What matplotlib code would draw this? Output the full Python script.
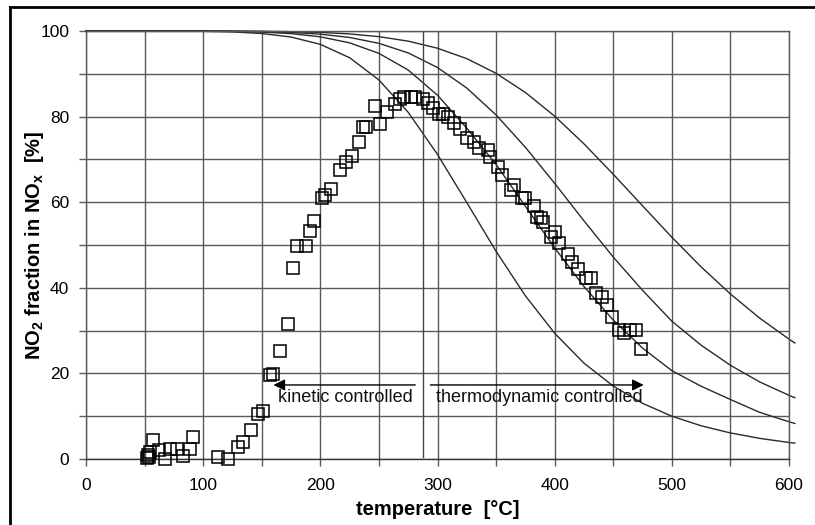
import matplotlib
matplotlib.use("Agg")
import matplotlib.pyplot as plt
from matplotlib.ticker import MultipleLocator
from matplotlib.lines import Line2D

plt.rcParams['font.family'] = ['Liberation Sans', 'DejaVu Sans']
plt.rcParams['mathtext.fontset'] = 'custom'
plt.rcParams['mathtext.bf'] = 'Liberation Sans:bold'
plt.rcParams['mathtext.rm'] = 'Liberation Sans'
plt.rcParams['mathtext.default'] = 'bf'

# Equilibrium NO2 fraction curves (temperature in degC, fraction in %)
curve_T = [0, 25, 50, 75, 100, 125, 150, 175, 200, 225, 250, 275, 300,
           325, 350, 375, 400, 425, 450, 475, 500, 525, 550, 575, 600, 605]
curve_a = [100.0, 100.0, 100.0, 99.98, 99.93, 99.79, 99.42, 98.59, 96.88,
           93.75, 88.57, 81.0, 71.16, 59.92, 48.52, 38.13, 29.38, 22.39,
           17.04, 13.01, 10.0, 7.76, 6.09, 4.82, 3.86, 3.70]
curve_b = [100.0, 100.0, 100.0, 99.99, 99.97, 99.91, 99.75, 99.39, 98.64,
           97.23, 94.78, 90.88, 85.0, 77.3, 68.81, 59.05, 49.32, 40.30,
           32.45, 25.92, 20.64, 17.0, 13.9, 10.9, 8.7, 8.3]
curve_c = [100.0, 100.0, 100.0, 100.0, 99.98, 99.95, 99.87, 99.67, 99.26,
           98.49, 97.12, 94.88, 91.47, 86.67, 80.39, 72.83, 64.40, 55.65,
           47.18, 39.41, 32.2, 26.6, 21.9, 18.0, 14.88, 14.32]
curve_d = [100.0, 100.0, 100.0, 100.0, 99.99, 99.98, 99.94, 99.85, 99.67,
           99.32, 98.68, 97.63, 95.98, 93.54, 90.12, 85.64, 80.11, 73.63,
           66.53, 59.15, 51.82, 44.89, 38.56, 32.91, 28.01, 27.11]

# Measured NO2 fraction
meas_T = [52, 53, 54, 55, 57, 62, 67, 72, 78, 83,
          89, 91, 113, 121, 130, 134, 141, 147, 151, 157,
          160, 166, 172, 177, 180, 188, 191, 195, 201, 204,
          209, 217, 222, 227, 233, 236, 239, 247, 251, 257,
          264, 268, 271, 277, 281, 288, 292, 296, 301, 305,
          309, 314, 319, 325, 331, 335, 343, 345, 352, 355,
          363, 365, 372, 375, 382, 385, 388, 390, 397, 400,
          404, 411, 415, 420, 427, 431, 435, 440, 445, 449,
          455, 459, 464, 469, 474]
meas_v = [0.2, 0.9, 0.5, 1.6, 4.4, 2.0, 0.0, 2.4, 2.4, 0.7,
          2.4, 5.1, 0.5, 0.0, 2.9, 3.9, 6.8, 10.4, 11.2, 19.6,
          19.9, 25.2, 31.5, 44.6, 49.8, 49.8, 53.3, 55.7, 60.9, 61.7,
          63.0, 67.5, 69.5, 70.9, 74.0, 77.6, 77.6, 82.5, 78.3, 81.0,
          82.9, 84.0, 84.5, 84.6, 84.5, 84.0, 83.1, 81.9, 80.5, 80.7,
          80.0, 78.4, 77.2, 74.9, 74.1, 72.6, 72.2, 70.6, 68.3, 66.4,
          62.9, 64.0, 60.9, 60.9, 59.0, 56.6, 56.2, 55.4, 51.9, 53.1,
          50.5, 48.0, 46.1, 44.5, 42.4, 42.4, 38.9, 37.9, 36.0, 33.1,
          30.1, 29.4, 30.1, 30.1, 25.7]

T_boundary = 288
arrow_level = 17.3
kinetic_span = (281, 160)
thermo_span = (294, 476)

fig = plt.figure(figsize=(8.15, 5.25), dpi=100)
ax = fig.add_axes([86 / 815, 1 - 459 / 525, (789 - 86) / 815, (459 - 31) / 525])

grid_col = '#5a5a5a'
ax.set_xlim(0, 600)
ax.set_ylim(0, 100)
ax.xaxis.set_major_locator(MultipleLocator(100))
ax.xaxis.set_minor_locator(MultipleLocator(50))
ax.yaxis.set_major_locator(MultipleLocator(20))
ax.yaxis.set_minor_locator(MultipleLocator(10))
ax.grid(which='both', color=grid_col, linewidth=1.0)
ax.set_axisbelow(True)
ax.tick_params(which='both', direction='out', length=5, width=1.0,
               color=grid_col, labelsize=12.5)
ax.tick_params(axis='x', which='both', pad=9)
ax.tick_params(axis='y', which='both', pad=7)
for s in ax.spines.values():
    s.set_color(grid_col)
    s.set_linewidth(1.0)
ax.spines['bottom'].set_color('#333333')

for vals in (curve_a, curve_b, curve_c, curve_d):
    ax.plot(curve_T, vals, color='#2a2a2a', linewidth=1.0, clip_on=False, zorder=2)

ax.plot([T_boundary, T_boundary], [100, 0.5], color='#444444', linewidth=1.0, zorder=2)

ax.plot(meas_T, meas_v, 's', mfc='none', mec='black', ms=9, mew=1.1,
        zorder=3, clip_on=False)

arrow_kw = dict(arrowstyle='-|>', mutation_scale=17, color='black', lw=1.0,
                shrinkA=0, shrinkB=0)
ax.annotate('', xy=(kinetic_span[1], arrow_level), xytext=(kinetic_span[0], arrow_level),
            arrowprops=arrow_kw, zorder=4)
ax.annotate('', xy=(thermo_span[1], arrow_level), xytext=(thermo_span[0], arrow_level),
            arrowprops=arrow_kw, zorder=4)
ax.text(164, 14.4, 'kinetic controlled', fontsize=13, va='center', ha='left',
        color='#111111', zorder=4)
ax.text(299, 14.4, 'thermodynamic controlled', fontsize=13, va='center', ha='left',
        color='#111111', zorder=4)

ax.set_xlabel('temperature  [°C]', fontsize=14.5, fontweight='bold', labelpad=5)
ax.set_ylabel('NO$_2$ fraction in NO$_x$  [%]', fontsize=14.5, fontweight='bold', labelpad=-4)

# outer frame of the figure (left and top edges)
fig.add_artist(Line2D([10 / 815, 10 / 815], [0, 1 - 7 / 525], color='black', linewidth=2,
                      transform=fig.transFigure))
fig.add_artist(Line2D([10 / 815, 1], [1 - 7 / 525, 1 - 7 / 525], color='black', linewidth=2,
                      transform=fig.transFigure))

fig.savefig('out.png', dpi=100)
